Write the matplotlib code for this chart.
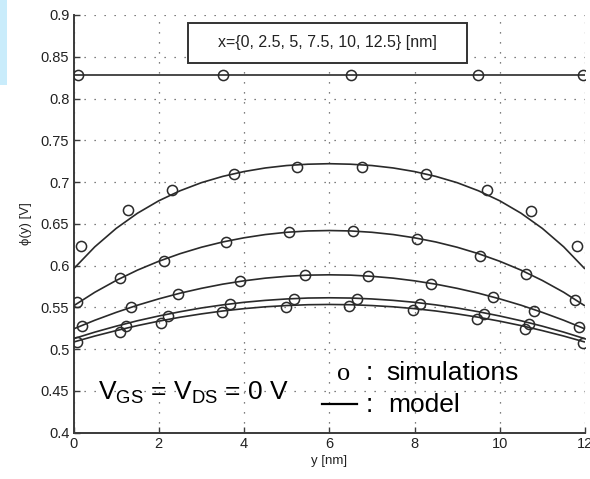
import numpy as np
import matplotlib
matplotlib.use("Agg")
import matplotlib.pyplot as plt
from matplotlib.patches import Rectangle
from matplotlib.lines import Line2D

plt.rcParams['font.family'] = ['Liberation Sans', 'DejaVu Sans']
plt.rcParams['mathtext.fontset'] = 'custom'
plt.rcParams['mathtext.rm'] = 'Liberation Sans'
plt.rcParams['mathtext.it'] = 'Liberation Sans:italic'

# ---- model curves phi(y) for x = {0, 2.5, 5, 7.5, 10, 12.5} nm ----
y_model = [0.0, 0.5, 1.0, 1.5, 2.0, 2.5, 3.0, 3.5, 4.0, 4.5, 5.0, 5.5, 6.0,
           6.5, 7.0, 7.5, 8.0, 8.5, 9.0, 9.5, 10.0, 10.5, 11.0, 11.5, 12.0]

model_1 = [0.828] * 25
model_2 = [0.596, 0.6225, 0.6445, 0.6627, 0.6776, 0.6896, 0.6993, 0.7068, 0.7126,
           0.7169, 0.7198, 0.7214, 0.722, 0.7214, 0.7198, 0.7169, 0.7126, 0.7068,
           0.6993, 0.6896, 0.6776, 0.6627, 0.6445, 0.6225, 0.596]
model_3 = [0.5518, 0.5681, 0.5822, 0.5946, 0.6052, 0.6143, 0.622, 0.6283, 0.6333,
           0.6372, 0.6399, 0.6415, 0.642, 0.6415, 0.6399, 0.6372, 0.6333, 0.6283,
           0.622, 0.6143, 0.6052, 0.5946, 0.5822, 0.5681, 0.5518]
model_4 = [0.5242, 0.5346, 0.544, 0.5526, 0.5602, 0.567, 0.5728, 0.5778, 0.5818,
           0.585, 0.5872, 0.5886, 0.589, 0.5886, 0.5872, 0.585, 0.5818, 0.5778,
           0.5728, 0.567, 0.5602, 0.5526, 0.544, 0.5346, 0.5242]
model_5 = [0.5125, 0.5204, 0.5275, 0.534, 0.5397, 0.5448, 0.5493, 0.553, 0.5561,
           0.5584, 0.5601, 0.5612, 0.5615, 0.5612, 0.5601, 0.5584, 0.5561, 0.553,
           0.5493, 0.5448, 0.5397, 0.534, 0.5275, 0.5204, 0.5125]
model_6 = [0.5085, 0.5157, 0.5222, 0.5282, 0.5335, 0.5382, 0.5422, 0.5457, 0.5485,
           0.5507, 0.5522, 0.5532, 0.5535, 0.5532, 0.5522, 0.5507, 0.5485, 0.5457,
           0.5422, 0.5382, 0.5335, 0.5282, 0.5222, 0.5157, 0.5085]

# ---- simulation points ----
sim_y_1 = [0.1, 3.5, 6.5, 9.5, 11.95]
sim_v_1 = [0.828, 0.828, 0.828, 0.828, 0.828]

sim_y_2 = [0.17, 1.27, 2.31, 3.76, 5.24, 6.76, 8.26, 9.70, 10.74, 11.82]
sim_v_2 = [0.624, 0.666, 0.691, 0.710, 0.718, 0.718, 0.710, 0.690, 0.665, 0.623]

sim_y_3 = [0.09, 1.10, 2.12, 3.57, 5.06, 6.55, 8.07, 9.53, 10.62, 11.77]
sim_v_3 = [0.557, 0.585, 0.606, 0.628, 0.640, 0.641, 0.632, 0.612, 0.590, 0.559]

sim_y_4 = [0.19, 1.35, 2.44, 3.91, 5.42, 6.92, 8.39, 9.84, 10.81, 11.85]
sim_v_4 = [0.528, 0.550, 0.566, 0.581, 0.589, 0.588, 0.578, 0.562, 0.546, 0.527]

sim_y_5 = [1.22, 2.22, 3.66, 5.17, 6.66, 8.14, 9.63, 10.69]
sim_v_5 = [0.528, 0.540, 0.554, 0.560, 0.560, 0.554, 0.542, 0.530]

sim_y_6 = [0.09, 1.10, 2.06, 3.48, 4.99, 6.47, 7.96, 9.47, 10.59, 11.96]
sim_v_6 = [0.508, 0.521, 0.531, 0.544, 0.551, 0.552, 0.547, 0.536, 0.524, 0.507]

x_ticks = [0, 2, 4, 6, 8, 10, 12]
y_ticks = [0.4, 0.45, 0.5, 0.55, 0.6, 0.65, 0.7, 0.75, 0.8, 0.85, 0.9]
y_tick_labels = ['0.4', '0.45', '0.5', '0.55', '0.6', '0.65', '0.7', '0.75', '0.8', '0.85', '0.9']

models = [model_1, model_2, model_3, model_4, model_5, model_6]
sims = [(sim_y_1, sim_v_1), (sim_y_2, sim_v_2), (sim_y_3, sim_v_3),
        (sim_y_4, sim_v_4), (sim_y_5, sim_v_5), (sim_y_6, sim_v_6)]

W, H = 590, 479
fig = plt.figure(figsize=(W / 100, H / 100), dpi=100)
fig.patch.set_facecolor('white')

# thin light-blue strip at the upper-left edge
fig.patches.append(Rectangle((0, 1 - 85 / H), 7 / W, 85 / H, transform=fig.transFigure,
                             facecolor='#c9ecfb', edgecolor='none', zorder=0))

ax = fig.add_axes([73.5 / W, 1 - 432.7 / H, (585 - 73.5) / W, (432.7 - 15) / H])

line_col = '#2a2a2a'
for m in models:
    ax.plot(y_model, m, color=line_col, lw=1.2, solid_capstyle='butt', zorder=3)
for sy, sv in sims:
    ax.plot(sy, sv, linestyle='none', marker='o', markersize=7.3, markerfacecolor='none',
            markeredgecolor=line_col, markeredgewidth=1.1, zorder=4)

ax.set_xlim(0, 12)
ax.set_ylim(0.4, 0.9)
ax.set_xticks(x_ticks)
ax.set_xticklabels([str(t) for t in x_ticks])
ax.set_yticks(y_ticks)
ax.set_yticklabels(y_tick_labels)

ax.grid(True, color='#555555', linestyle=(0, (1, 7)), linewidth=0.9)
ax.set_axisbelow(True)
for side in ['top', 'right']:
    ax.spines[side].set_visible(False)
for side in ['left', 'bottom']:
    ax.spines[side].set_color('#3a3a3a')
    ax.spines[side].set_linewidth(1.4)
ax.tick_params(direction='in', length=4, width=1.0, color='#3a3a3a',
               labelsize=10.5, labelcolor='#222222', pad=3)

ax.set_xlabel('y [nm]', fontsize=9.5, color='#222222', labelpad=3)
ax.set_ylabel('ϕ(y) [V]', fontsize=9.5, color='#222222', labelpad=6)

# text box with the x positions
bx0, bx1, by0, by1 = 188 / W, 467 / W, 1 - 63 / H, 1 - 23 / H
fig.patches.append(Rectangle((bx0, by0), bx1 - bx0, by1 - by0, transform=fig.transFigure,
                             facecolor='white', edgecolor='#333333', linewidth=1.4, zorder=5))
fig.text((bx0 + bx1) / 2, (by0 + by1) / 2, 'x={0, 2.5, 5, 7.5, 10, 12.5} [nm]',
         ha='center', va='center', fontsize=11.5, color='#222222', zorder=6)

# bias annotation
fig.text(98 / W, 1 - 399.5 / H, r'V$_{\mathrm{GS}}$ = V$_{\mathrm{DS}}$ = 0 V',
         ha='left', va='baseline', fontsize=19, color='black')

# hand-made legend
fig.text(344 / W, 1 - 379.5 / H, 'o', family='Liberation Serif', ha='center',
         va='baseline', fontsize=19, color='black')
fig.text(369 / W, 1 - 379.5 / H, ':', ha='center', va='baseline', fontsize=19, color='black')
fig.text(386 / W, 1 - 379.5 / H, 'simulations', ha='left', va='baseline', fontsize=19,
         color='black')
fig.lines.append(Line2D([321.7 / W, 356.7 / W], [1 - 404.3 / H, 1 - 404.3 / H],
                        transform=fig.transFigure, color='black', linewidth=1.6))
fig.text(369 / W, 1 - 411.7 / H, ':', ha='center', va='baseline', fontsize=19, color='black')
fig.text(388 / W, 1 - 411.7 / H, 'model', ha='left', va='baseline', fontsize=19,
         color='black')

fig.savefig('out.png', dpi=100)
